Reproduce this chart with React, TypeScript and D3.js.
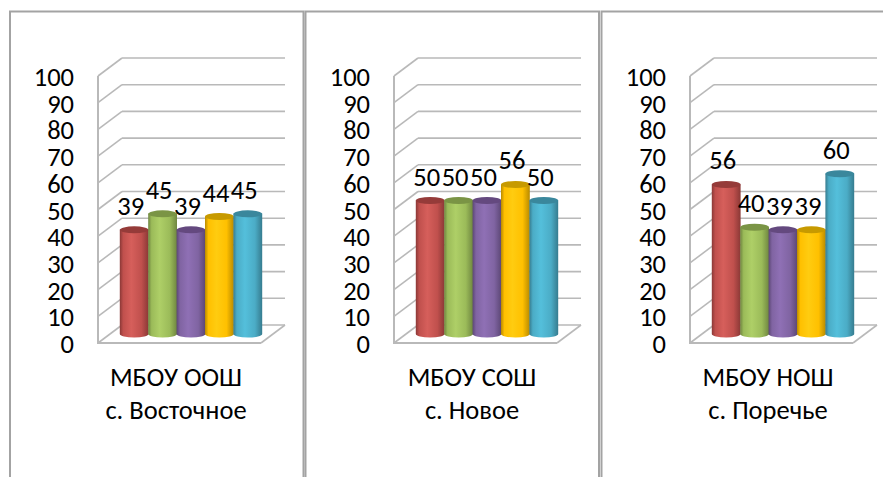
import React from "react";
import * as d3 from "d3";

const schools = ["МБОУ ООШ", "МБОУ СОШ", "МБОУ НОШ"];
const villages = ["с. Восточное", "с. Новое", "с. Поречье"];
const series = ["s1", "s2", "s3", "s4", "s5"];
const panelA = [39, 45, 39, 44, 45];
const panelB = [50, 50, 50, 56, 50];
const panelC = [56, 40, 39, 39, 60];
const panelValues = [panelA, panelB, panelC];
const ticks = [0, 10, 20, 30, 40, 50, 60, 70, 80, 90, 100];
const side = ["#C0504D", "#9BBB59", "#8064A2", "#FFC000", "#4BACC6"];
const light = ["#D65F5B", "#AECF67", "#8F70B5", "#FFCC10", "#54BFDB"];
const dark = ["#8A3836", "#6F8640", "#5C4775", "#B88A00", "#367C8F"];
const cap = ["#953B39", "#7A9445", "#64497F", "#C79A00", "#3A879C"];

const FONT = "Carlito, Lato, 'Open Sans', sans-serif";
const FS = 26.5;
const panelX = d3.scaleOrdinal<number, number>().domain([0, 1, 2]).range([98, 394, 690]);
const y = d3.scaleLinear().domain([0, 100]).range([343, 76]);
const barY = d3.scaleLinear().domain([0, 100]).range([334, 67]);
const band = d3.scaleBand<string>().domain(series).range([22, 164]).paddingInner(0).paddingOuter(0);

const GRID = "#B9B9B9";
const BORDER = "#A3A3A3";

function Panel({ index }: { index: number }) {
  const x0 = panelX(index);
  const values = panelValues[index];
  const bw = band.bandwidth();
  return (
    <g transform={`translate(${x0},0)`}>
      {ticks.map((t) => (
        <g key={t}>
          <path d={`M0,${y(t)}L24,${y(t) - 18}`} fill="none" stroke={GRID} strokeWidth={1.6} />
          <line x1={24} x2={187} y1={y(t) - 18} y2={y(t) - 18} stroke={GRID} strokeWidth={1.6} />
          <text x={-24} y={y(t) + 10} textAnchor="end" fontSize={FS} fontFamily={FONT} fill="#000">{t}</text>
        </g>
      ))}
      <line x1={0} x2={0} y1={y(100)} y2={y(0)} stroke={GRID} strokeWidth={2} />
      <line x1={-1} x2={163} y1={y(0)} y2={y(0)} stroke={GRID} strokeWidth={2} />
      <line x1={163} x2={187} y1={y(0)} y2={y(0) - 18} stroke={GRID} strokeWidth={1.6} />
      {values.map((v, i) => {
        const name = series[i];
        const left = band(name)!;
        const rx = bw / 2 + 0.2;
        const cx = left + bw / 2;
        const top = barY(v);
        const base = barY(0);
        return (
          <g key={name}>
            <path
              d={`M${cx - rx},${top}L${cx - rx},${base}A${rx},3.5 0 0 0 ${cx + rx},${base}L${cx + rx},${top}Z`}
              fill={`url(#cyl${i})`}
            />
            <ellipse cx={cx} cy={top} rx={rx} ry={3.5} fill={cap[i]} />
          </g>
        );
      })}
      {values.map((v, i) => (
        <text
          key={series[i]}
          x={band(series[i])! + bw / 2 - 3.5}
          y={barY(v) - 15}
          textAnchor="middle"
          fontSize={FS}
          fontFamily={FONT}
          fill="#000"
        >
          {v}
        </text>
      ))}
      <text x={78} y={386} textAnchor="middle" fontSize={FS} fontFamily={FONT} fill="#000">{schools[index]}</text>
      <text x={78} y={419} textAnchor="middle" fontSize={FS} fontFamily={FONT} fill="#000">{villages[index]}</text>
    </g>
  );
}

export default function App() {
  return (
    <svg
      width={883}
      height={477}
      style={{ position: "absolute", left: 0, top: 0, background: "#fff" }}
    >
      <defs>
        {series.map((s, i) => (
          <linearGradient key={s} id={`cyl${i}`} x1="0" x2="1" y1="0" y2="0">
            <stop offset="0" stopColor={dark[i]} />
            <stop offset="0.12" stopColor={side[i]} />
            <stop offset="0.4" stopColor={light[i]} />
            <stop offset="0.75" stopColor={side[i]} />
            <stop offset="1" stopColor={dark[i]} />
          </linearGradient>
        ))}
      </defs>
      <path d="M10,477V11.5H303.5V477" fill="none" stroke={BORDER} strokeWidth={2} />
      <path d="M305.5,477V11.5H599V477" fill="none" stroke={BORDER} strokeWidth={2} />
      <path d="M601.5,477V11.5H883" fill="none" stroke={BORDER} strokeWidth={2} />
      {schools.map((s, i) => (
        <Panel key={s} index={i} />
      ))}
    </svg>
  );
}
